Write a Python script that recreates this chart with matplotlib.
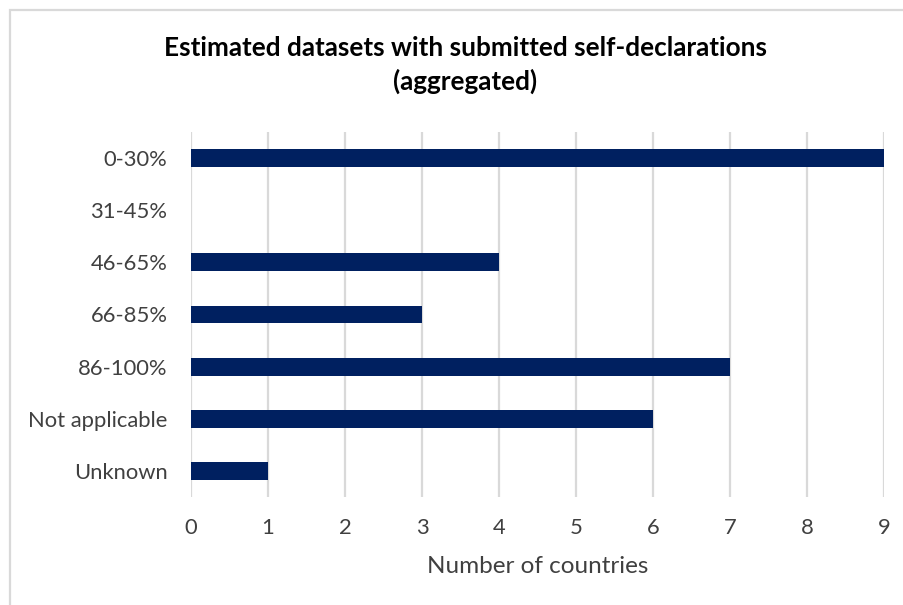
import matplotlib
matplotlib.use("Agg")
import matplotlib.pyplot as plt
from matplotlib.patches import Rectangle

categories = ["0-30%", "31-45%", "46-65%", "66-85%", "86-100%", "Not applicable", "Unknown"]
countries = [9, 0, 4, 3, 7, 6, 1]
x_ticks = [0, 1, 2, 3, 4, 5, 6, 7, 8, 9]

plt.rcParams["font.family"] = ["Lato", "DejaVu Sans"]

W, H = 904, 605
fig = plt.figure(figsize=(W / 100, H / 100), dpi=100)
fig.patch.set_facecolor("white")

# chart-area frame (clipped at right and bottom)
fig.patches.append(Rectangle((10 / W, -0.1), 1.2, 1 - 10 / H + 0.1,
                             transform=fig.transFigure, fill=False,
                             edgecolor="#d9d9d9", linewidth=1.6))

ax = fig.add_axes([191 / W, 1 - 497 / H, (884 - 191) / W, (497 - 132) / H])
ypos = list(range(len(categories)))
ax.barh(ypos, countries, height=0.345, color="#002060", zorder=3)
ax.set_ylim(len(categories) - 0.5, -0.5)
ax.set_xlim(0, 9)
ax.set_xticks(x_ticks)
ax.set_yticks(ypos)
ax.set_yticklabels(categories)
ax.tick_params(axis="both", length=0, labelsize=15.8, colors="#404040")
ax.tick_params(axis="y", pad=17)
ax.tick_params(axis="x", pad=15)
ax.xaxis.grid(True, color="#d9d9d9", linewidth=1.6, zorder=0)
for s in ax.spines.values():
    s.set_visible(False)
ax.set_xlabel("Number of countries", fontsize=17.5, color="#404040", labelpad=13)

fig.text(465 / W, 1 - 65 / H,
         "Estimated datasets with submitted self-declarations\n(aggregated)",
         ha="center", va="center", fontsize=18.8, fontweight="bold",
         color="black", linespacing=1.45)

fig.savefig("out.png", dpi=100)
